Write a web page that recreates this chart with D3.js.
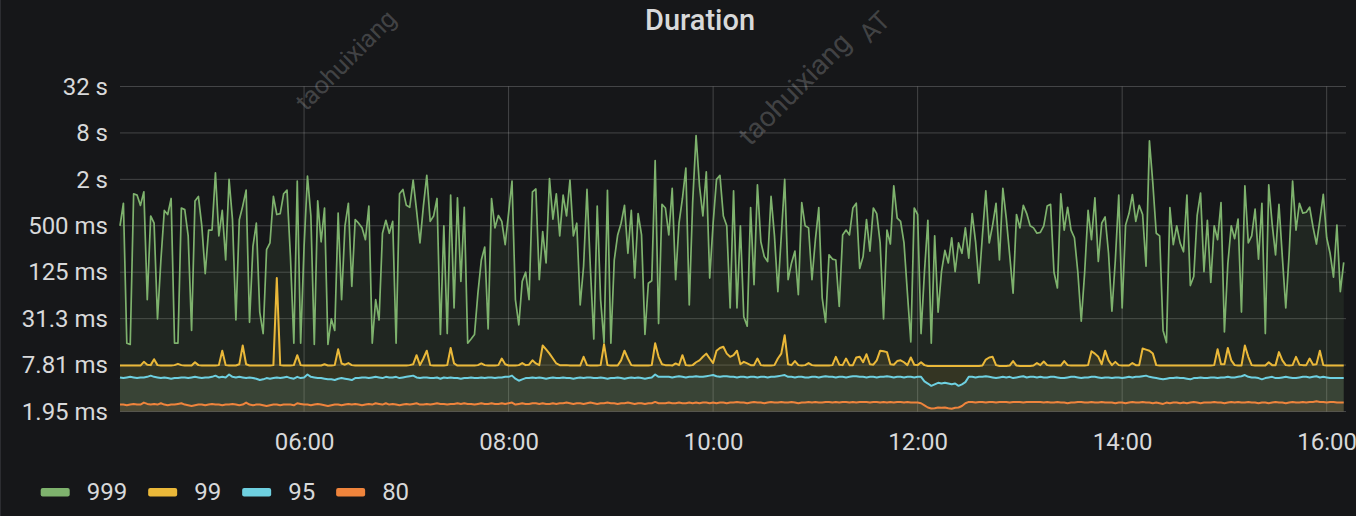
<!DOCTYPE html>
<html><head><meta charset="utf-8">
<script src="https://cdn.jsdelivr.net/npm/d3@7"></script>
<style>
html,body{margin:0;padding:0;background:#161719;}
svg{display:block;font-family:Roboto,"Noto Sans",sans-serif;}
</style>
</head><body>
<svg id="chart" width="1356" height="516"></svg>
<script>
// ---------- data ----------
const seriesNames = ["999", "99", "95", "80"];
const seriesColors = ["#7EB26D", "#EAB839", "#6ED0E0", "#EF843C"];
const chartTitle = "Duration";
const startTime = Date.UTC(2021, 0, 1, 4, 12); // 04:12
const endTime = Date.UTC(2021, 0, 1, 16, 11, 20);
const stepMinutes = 2;

// p99.9 duration (ms)
const p999 = [
500,980,15,14.5,1300,1250,920,1380,55,670,
540,31,180,790,700,1130,15,15,850,810,
370,22,1050,1200,500,120,440,440,2430,370,
790,180,2000,600,30,600,900,1450,28,270,
540,38,20,245,300,1200,700,720,1300,1450,
200,15,1900,15,270,2200,670,14.5,1050,310,
850,14.5,31,22,730,55,500,980,82,600,
540,470,330,900,15,55,30,400,590,400,
570,15,1300,1480,920,870,1960,790,300,900,
2250,
570,670,1130,19.5,500,20,1250,43,1150,95,
870,15,17,19.5,67,180,265,23,1130,470,
680,570,285,730,1900,55,26,95,125,55,
1380,1500,100,420,165,2050,610,1300,370,1250,
670,1960,370,540,47,150,1480,140,17,900,
55,15.3,1440,15,180,380,540,920,220,790,
105,720,380,19.5,90,97,3500,27,950,850,
380,1530,100,540,1130,2800,47,1000,7400,1650,
670,2500,105,540,2000,2250,670,500,43,
1420,43,500,33,25,860,86,1700,310,200,
172,1200,370,70,370,2000,100,165,235,64,
1000,500,470,100,330,860,58,28,210,185,
180,45,380,440,380,850,980,140,200,600,
235,850,720,300,31,440,290,1650,630,570,
300,67,15.6,850,700,20,127,590,15,370,
38,127,240,165,350,127,300,220,470,190,
720,310,90,370,1420,300,510,980,180,1530,
630,210,67,700,470,920,720,500,470,400,
410,500,900,950,125,78,1300,440,870,440,
350,125,29,125,790,330,1150,172,540,650,
220,39,180,1250,43,510,720,1270,570,920,
700,150,6300,1780,400,370,22,15.3,860,285,
500,300,230,1250,84,110,680,1330,127,590,
92,500,330,1000,21,160,500,340,610,38,
1650,300,370,820,185,980,20,1700,530,210,
950,195,43,220,1900,440,980,730,750,870,
480,290,590,1280,350,220,108,510,70,168
];

// p99 duration (ms)
const p99 = [
7.7,7.7,7.7,7.7,7.7,7.7,7.7,8.6,7.9,7.8,
9.3,7.8,7.7,7.7,7.7,7.7,7.8,8.1,7.8,7.7,
7.7,7.7,8.5,7.8,7.7,7.7,7.7,7.7,7.7,7.8,
12,7.8,7.7,7.7,7.7,8,14,8,7.7,7.7,
7.7,7.7,7.7,7.7,7.7,7.8,105,7.8,7.7,7.7,
7.7,7.8,10.5,7.8,7.7,7.7,7.7,7.7,7.7,7.7,
8,7.7,7.7,7.8,12.5,8.2,7.9,8.3,7.8,7.7,
7.7,7.7,7.7,7.7,7.7,7.7,7.7,7.7,7.7,7.7,
7.7,7.7,7.7,7.7,7.7,7.8,8,10.5,7.8,9.5,
12,7.8,7.7,7.7,7.7,7.7,7.8,13,8.2,7.7,
7.7,7.7,7.7,7.7,7.7,7.8,8.2,7.8,7.7,7.7,
7.7,7.8,9.5,8,7.7,7.7,7.7,7.8,8.3,7.8,
7.9,9,8.2,7.8,14,12.5,11,9.5,8.2,7.8,
7.8,7.8,7.7,7.7,7.7,7.7,10,7.8,7.7,7.7,
7.7,7.8,14.5,7.8,7.7,7.7,7.7,9,12,9.5,
7.8,7.7,7.7,7.7,7.7,7.7,7.8,15,10,8,
7.8,7.8,7.7,8.2,7.8,10.5,7.8,7.7,7.8,8.5,
9,10,11,9.5,8.3,12,13,13.5,11,10,
10.5,12,8,8.6,8.2,7.8,7.8,9.5,7.8,7.7,
7.7,7.7,7.8,9.5,11,19,8,7.8,8.8,7.8,
7.7,7.8,8.3,7.8,7.7,7.7,7.7,7.7,7.7,7.8,
10,7.9,7.8,9.5,7.8,7.8,9.8,10,8.5,10.8,
8,7.9,9,12,11.8,11.5,8,7.9,8.8,9,
8.5,7.8,9.8,7.9,7.8,8.5,7.8,7.6,7.6,7.6,
7.6,7.6,7.6,7.6,7.6,7.6,7.6,7.6,7.6,7.6,
7.6,7.6,7.6,7.7,9.2,9.8,10,7.8,7.6,7.6,
7.6,7.7,8.8,7.7,7.6,7.6,7.6,7.6,7.7,8.3,
7.8,8.7,7.8,7.7,7.7,7.7,7.7,8.8,7.8,7.7,
7.7,7.7,7.7,7.7,7.8,11.8,11,10,8,12,
9,7.8,8.6,7.8,7.7,7.7,7.7,8.3,7.8,7.8,
12.8,12.4,12,11,7.8,7.7,7.7,7.7,7.7,7.7,
7.7,7.7,7.7,7.7,7.7,7.7,7.7,7.7,7.7,7.7,
7.7,7.8,12.5,8,8,13,9,7.8,7.7,7.7,
14,10,7.8,7.7,7.7,7.7,7.7,8.5,7.8,7.8,
11.5,9,7.8,7.7,7.8,10,7.9,7.8,7.8,9.5,
7.9,8,12,7.8,7.7,7.7,7.7,7.7,7.7,7.7
];

// p95 duration (ms)
const p95 = [
5.4,5.3,5.4,5.5,5.4,5.3,5.4,5.4,5.5,5.7,
5.5,5.4,5.3,5.4,5.3,5.2,5.3,5.3,5.4,5.4,
5.3,5.4,5.5,5.4,5.3,5.4,5.4,5.5,5.7,5.4,
5.5,5.4,5.9,5.5,5.4,5.5,5.4,5.3,5.4,5.3,
5.2,5.0,5.1,5.3,5.2,5.3,5.4,5.3,5.4,5.5,
5.3,5.2,5.5,5.3,5.4,5.9,5.5,5.4,5.3,5.3,
5.2,5.1,5.1,5.0,5.2,5.3,5.2,5.1,5.0,5.3,
5.3,5.4,5.4,5.3,5.4,5.5,5.4,5.3,5.5,5.4,
5.4,5.5,5.3,5.4,5.5,5.6,5.7,5.4,5.3,5.4,
5.4,5.3,5.3,5.4,5.2,5.4,5.3,5.4,5.3,5.3,
5.2,5.3,5.3,5.4,5.3,5.3,5.4,5.3,5.4,5.4,
5.3,5.4,5.4,5.5,5.5,5.7,5.2,4.9,5.1,5.3,
5.3,5.4,5.3,5.4,5.3,5.2,5.3,5.4,5.3,5.3,
5.4,5.3,5.3,5.2,5.3,5.4,5.3,5.4,5.4,5.3,
5.3,5.4,5.3,5.2,5.3,5.3,5.4,5.3,5.2,5.3,
5.4,5.3,5.4,5.3,5.2,5.3,5.4,5.9,5.5,5.5,
5.5,5.5,5.4,5.5,5.6,5.5,5.4,5.5,5.5,5.6,
5.5,5.5,5.6,5.7,5.8,5.6,5.5,5.6,5.6,5.5,
5.5,5.4,5.5,5.5,5.4,5.5,5.5,5.4,5.5,5.5,
5.4,5.5,5.5,5.6,5.7,5.8,5.5,5.5,5.4,5.5,
5.5,5.4,5.4,5.5,5.5,5.4,5.5,5.6,5.5,5.5,
5.4,5.5,5.5,5.4,5.5,5.6,5.6,5.5,5.5,5.4,
5.5,5.5,5.4,5.5,5.5,5.6,5.5,5.4,5.5,5.5,
5.4,5.5,5.5,5.4,5.5,5.5,4.8,4.5,4.2,4.4,
4.6,4.5,4.6,4.5,4.4,4.5,4.2,4.4,4.7,5.5,
5.5,5.4,5.5,5.5,5.6,5.5,5.4,5.3,5.4,5.5,
5.4,5.5,5.3,5.4,5.5,5.6,5.4,5.5,5.5,5.4,
5.5,5.4,5.4,5.5,5.5,5.4,5.3,5.3,5.4,5.5,
5.5,5.4,5.3,5.4,5.4,5.5,5.5,5.4,5.3,5.4,
5.4,5.3,5.4,5.4,5.3,5.4,5.5,5.4,5.5,5.5,
5.6,5.7,5.5,5.4,5.3,5.2,5.1,5.2,5.3,5.3,
5.4,5.3,5.3,5.2,5.1,5.3,5.3,5.4,5.3,5.3,
5.4,5.4,5.3,5.4,5.4,5.5,5.4,5.4,5.5,5.6,
5.8,5.5,5.4,5.4,5.3,5.1,5.3,5.4,5.5,5.3,
5.3,5.4,5.5,5.4,5.3,5.3,5.4,5.5,5.5,5.4,
5.5,5.6,5.4,5.5,5.4,5.3,5.3,5.3,5.3,5.3
];

// p80 duration (ms)
const p80 = [
2.4,2.4,2.35,2.4,2.45,2.4,2.4,2.55,2.45,2.4,
2.45,2.4,2.5,2.4,2.35,2.4,2.4,2.45,2.5,2.4,
2.35,2.3,2.35,2.4,2.4,2.35,2.4,2.45,2.4,2.4,
2.35,2.4,2.4,2.45,2.4,2.35,2.4,2.55,2.4,2.35,
2.4,2.4,2.35,2.3,2.35,2.4,2.4,2.35,2.4,2.4,
2.4,2.35,2.5,2.45,2.4,2.4,2.35,2.4,2.45,2.4,
2.35,2.3,2.35,2.4,2.4,2.35,2.4,2.45,2.4,2.45,
2.4,2.35,2.4,2.45,2.4,2.5,2.45,2.4,2.5,2.4,
2.45,2.4,2.35,2.4,2.45,2.4,2.45,2.5,2.4,2.4,
2.45,2.4,2.45,2.5,2.45,2.45,2.4,2.45,2.45,2.5,
2.45,2.5,2.45,2.45,2.4,2.45,2.5,2.45,2.45,2.5,
2.45,2.45,2.5,2.45,2.5,2.55,2.4,2.45,2.5,2.45,
2.45,2.5,2.5,2.45,2.5,2.45,2.45,2.5,2.45,2.5,
2.5,2.55,2.5,2.45,2.5,2.5,2.45,2.5,2.55,2.5,
2.45,2.5,2.5,2.55,2.5,2.5,2.45,2.5,2.5,2.55,
2.5,2.45,2.5,2.5,2.45,2.5,2.5,2.6,2.5,2.5,
2.5,2.55,2.5,2.5,2.55,2.5,2.5,2.55,2.5,2.55,
2.5,2.55,2.55,2.5,2.55,2.5,2.55,2.55,2.5,2.55,
2.55,2.6,2.55,2.55,2.5,2.55,2.6,2.55,2.55,2.5,
2.55,2.6,2.55,2.55,2.6,2.55,2.55,2.6,2.55,2.5,
2.55,2.55,2.6,2.55,2.6,2.55,2.55,2.6,2.6,2.55,
2.6,2.55,2.6,2.6,2.55,2.6,2.55,2.6,2.6,2.6,
2.55,2.6,2.6,2.55,2.6,2.55,2.6,2.55,2.6,2.6,
2.55,2.6,2.55,2.55,2.55,2.5,2.35,2.2,2.14,2.15,
2.2,2.18,2.2,2.15,2.12,2.18,2.2,2.3,2.5,2.6,
2.6,2.55,2.6,2.6,2.55,2.6,2.6,2.55,2.6,2.6,
2.6,2.55,2.6,2.6,2.6,2.55,2.6,2.6,2.6,2.6,
2.6,2.55,2.6,2.55,2.55,2.6,2.55,2.55,2.5,2.55,
2.55,2.6,2.6,2.55,2.55,2.6,2.55,2.55,2.6,2.55,
2.55,2.55,2.5,2.55,2.55,2.5,2.55,2.6,2.55,2.55,
2.6,2.55,2.55,2.5,2.55,2.5,2.45,2.55,2.5,2.55,
2.55,2.5,2.55,2.5,2.55,2.6,2.55,2.5,2.55,2.55,
2.55,2.6,2.55,2.55,2.5,2.55,2.6,2.55,2.6,2.55,
2.55,2.6,2.55,2.55,2.5,2.55,2.55,2.5,2.55,2.6,
2.55,2.55,2.5,2.55,2.6,2.55,2.55,2.6,2.55,2.6,
2.6,2.65,2.6,2.6,2.55,2.6,2.6,2.55,2.55,2.55
];

// axis ticks
const yTickValues = [1.953125, 7.8125, 31.25, 125, 500, 2000, 8000, 32000];
const yTickLabels = ["1.95 ms", "7.81 ms", "31.3 ms", "125 ms", "500 ms", "2 s", "8 s", "32 s"];
const xTickHours = [6, 8, 10, 12, 14, 16];
const xTickLabels = ["06:00", "08:00", "10:00", "12:00", "14:00", "16:00"];

const watermarkTexts = ["taohuixiang", "taohuixiang", "AT"];

// ---------- layout ----------
const W = 1356, H = 516;
const plot = {left: 120, right: 1346, top: 86.5, bottom: 411.5};
const textColor = "#d8d9da";
const gridColor = "rgba(255,255,255,0.2)";

const svg = d3.select("#chart");
svg.append("rect").attr("width", W).attr("height", H).attr("fill", "#161719");
svg.append("line").attr("x1", 0.5).attr("x2", 0.5).attr("y1", 0).attr("y2", H)
  .attr("stroke", "#2c2d31").attr("stroke-width", 1);

const x = d3.scaleUtc().domain([new Date(startTime), new Date(endTime)]).range([plot.left, plot.right]);
const y = d3.scaleLog().base(2).domain([yTickValues[0], yTickValues[yTickValues.length - 1]])
  .range([plot.bottom, plot.top]);

const xTickDates = xTickHours.map(h => new Date(Date.UTC(2021, 0, 1, h, 0)));

// grid
const grid = svg.append("g");
grid.selectAll("line.h").data(yTickValues).join("line")
  .attr("x1", plot.left).attr("x2", plot.right)
  .attr("y1", d => y(d)).attr("y2", d => y(d))
  .attr("stroke", gridColor).attr("stroke-width", 1);
grid.selectAll("line.v").data(xTickDates).join("line")
  .attr("x1", d => x(d)).attr("x2", d => x(d))
  .attr("y1", plot.top).attr("y2", plot.bottom)
  .attr("stroke", gridColor).attr("stroke-width", 1);

// series
const allSeries = [p999, p99, p95, p80];
const area = d3.area()
  .x(d => x(d.t)).y0(plot.bottom).y1(d => y(d.v));
const line = d3.line().x(d => x(d.t)).y(d => y(d.v));

allSeries.forEach((vals, si) => {
  const pts = vals.map((v, i) => ({t: new Date(startTime + i * stepMinutes * 60000), v}));
  const g = svg.append("g");
  g.append("path").datum(pts).attr("d", area)
    .attr("fill", seriesColors[si]).attr("fill-opacity", 0.1).attr("stroke", "none");
  g.append("path").datum(pts).attr("d", line)
    .attr("fill", "none").attr("stroke", seriesColors[si])
    .attr("stroke-width", si === 0 ? 1.7 : 2).attr("stroke-linejoin", "round");
});

// y axis
const yAxis = svg.append("g").attr("transform", `translate(${plot.left},0)`)
  .call(d3.axisLeft(y).tickValues(yTickValues).tickFormat((d, i) => yTickLabels[i]).tickSize(0).tickPadding(12));
yAxis.select(".domain").remove();
yAxis.selectAll("text").attr("fill", textColor).style("font-size", "24px")
  .style("font-family", "Roboto, sans-serif");

// x axis
const xAxis = svg.append("g").attr("transform", `translate(0,${plot.bottom})`)
  .call(d3.axisBottom(x).tickValues(xTickDates).tickFormat((d, i) => xTickLabels[i]).tickSize(0).tickPadding(21));
xAxis.select(".domain").remove();
xAxis.selectAll("text").attr("fill", textColor).style("font-size", "24px")
  .style("font-family", "Roboto, sans-serif");

// title
svg.append("text").attr("x", 700).attr("y", 30).attr("text-anchor", "middle")
  .attr("fill", textColor).style("font-size", "29px").style("font-weight", 500)
  .text(chartTitle);

// legend
let lx = 40.7;
const legend = svg.append("g");
seriesNames.forEach((name, i) => {
  legend.append("rect").attr("x", lx).attr("y", 488).attr("width", 29).attr("height", 8.5)
    .attr("rx", 2).attr("fill", seriesColors[i]);
  const t = legend.append("text").attr("x", lx + 46).attr("y", 500)
    .attr("fill", textColor).style("font-size", "24px").text(name);
  lx = lx + 46 + t.node().getComputedTextLength() + 21;
});

// watermarks (kept fully inside the picture)
const wmPos = [[306, 112], [750, 147], [870, 44]];
const wmSize = [25, 28, 26];
watermarkTexts.forEach((txt, i) => {
  svg.append("text")
    .attr("transform", `translate(${wmPos[i][0]},${wmPos[i][1]}) rotate(-45)`)
    .attr("fill", "rgba(255,255,255,0.2)").style("font-size", wmSize[i] + "px").text(txt);
});
</script>
</body></html>
